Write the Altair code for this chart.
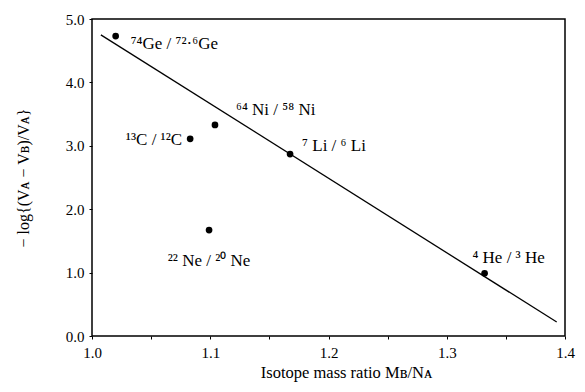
import altair as alt
import pandas as pd

# Data
ratio = [1.020, 1.083, 1.104, 1.1675, 1.099, 1.332]
neglog = [4.73, 3.11, 3.33, 2.87, 1.67, 0.99]
labels = ["⁷⁴Ge / ⁷²·⁶Ge", "¹³C / ¹²C", "⁶⁴ Ni / ⁵⁸ Ni", "⁷ Li / ⁶ Li", "²² Ne / ²⁰ Ne", "⁴ He / ³ He"]

fit_x = [1.0075, 1.393]
fit_y = [4.75, 0.22]

x_ticks = [1.0, 1.05, 1.1, 1.15, 1.2, 1.25, 1.3, 1.35, 1.4]
y_ticks = [0.0, 0.5, 1.0, 1.5, 2.0, 2.5, 3.0, 3.5, 4.0, 4.5, 5.0]

pts = pd.DataFrame({"x": ratio, "y": neglog, "label": labels})
fit = pd.DataFrame({"x": fit_x, "y": fit_y})

FONT = "Liberation Serif"

xscale = alt.Scale(domain=[1.0, 1.4], nice=False, zero=False)
yscale = alt.Scale(domain=[0.0, 5.0], nice=False)

xaxis = alt.Axis(
    values=x_ticks,
    labelExpr="abs(datum.value*10 - round(datum.value*10)) < 0.001 ? format(datum.value, '.1f') : ''",
    labelFlush=False,
    title="Isotope mass ratio Mʙ/Nᴀ",
    grid=False, domain=False, tickColor="black", tickSize=3, tickWidth=1,
    labelFont=FONT, labelFontSize=15, labelColor="black", labelPadding=6,
    titleFont=FONT, titleFontSize=16.5, titleFontWeight="normal", titleColor="black",
    titlePadding=4, titleX=254,
)
yaxis = alt.Axis(
    values=y_ticks,
    labelExpr="abs(datum.value - round(datum.value)) < 0.001 ? format(datum.value, '.1f') : ''",
    labelFlush=False,
    title="− log{(Vᴀ − Vʙ)/Vᴀ}",
    grid=False, domain=False, tickColor="black", tickSize=3, tickWidth=1,
    labelFont=FONT, labelFontSize=15, labelColor="black", labelPadding=5,
    titleFont=FONT, titleFontSize=16, titleFontWeight="normal", titleColor="black",
    titlePadding=34,
)

line = alt.Chart(fit).mark_line(color="black", strokeWidth=1.3).encode(
    x=alt.X("x:Q", scale=xscale, axis=xaxis),
    y=alt.Y("y:Q", scale=yscale, axis=yaxis),
)

points = alt.Chart(pts).mark_circle(color="black", opacity=1, size=45).encode(
    x=alt.X("x:Q", scale=xscale),
    y=alt.Y("y:Q", scale=yscale),
)

offsets = [
    ("left", 15, 8),
    ("right", -8, 1),
    ("left", 21, -15),
    ("left", 12, -8),
    ("center", 0, 31),
    ("center", 24, -15),
]

text_layers = []
for lab, (al, dx, dy) in zip(labels, offsets):
    t = alt.Chart(pts).transform_filter(
        alt.datum.label == lab
    ).mark_text(
        align=al, baseline="middle", dx=dx, dy=dy, font=FONT, fontSize=17, color="black"
    ).encode(
        x=alt.X("x:Q", scale=xscale),
        y=alt.Y("y:Q", scale=yscale),
        text="label:N",
    )
    text_layers.append(t)

chart = alt.layer(line, points, *text_layers).properties(
    width=473,
    height=317,
    autosize=alt.AutoSizeParams(type="none"),
    padding={"left": 84, "top": 11, "right": 12, "bottom": 48},
    background="white",
).configure_view(
    stroke="black", strokeWidth=1.5
)

chart.save("out.html", embed_options={"renderer": "svg", "actions": False})
